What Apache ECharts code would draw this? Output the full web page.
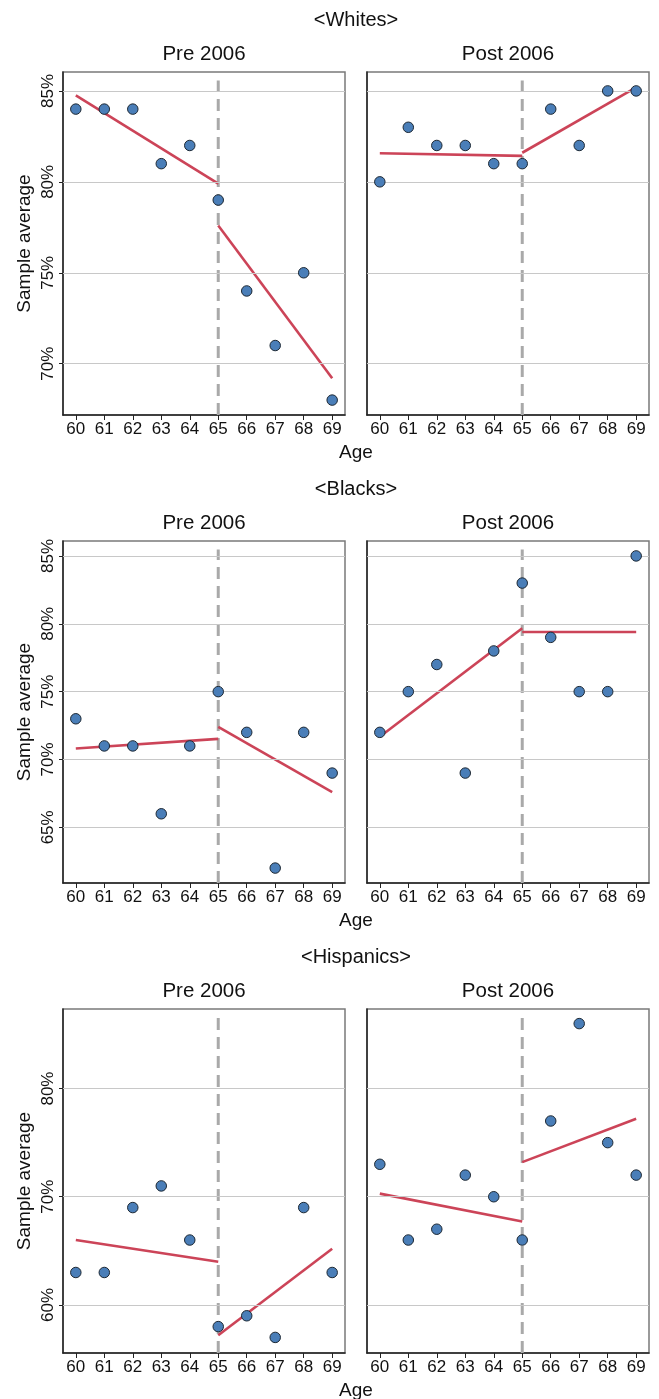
<!DOCTYPE html>
<html>
<head>
<meta charset="utf-8">
<script src="https://cdn.jsdelivr.net/npm/echarts@6/dist/echarts.min.js"></script>
<style>
html,body{margin:0;padding:0;background:#fff;}
#chart{width:659px;height:1399px;}
</style>
</head>
<body>
<div id="chart"></div>
<script>
// ---- data ----
const ages = [60, 61, 62, 63, 64, 65, 66, 67, 68, 69];
const CUTOFF = 65;
const groupNames = ['<Whites>', '<Blacks>', '<Hispanics>'];
const periodNames = ['Pre 2006', 'Post 2006'];

const whitesPre  = [84, 84, 84, 81, 82, 79, 74, 71, 75, 68];
const whitesPost = [80, 83, 82, 82, 81, 81, 84, 82, 85, 85];
const blacksPre  = [73, 71, 71, 66, 71, 75, 72, 62, 72, 69];
const blacksPost = [72, 75, 77, 69, 78, 83, 79, 75, 75, 85];
const hispPre    = [63, 63, 69, 71, 66, 58, 59, 57, 69, 63];
const hispPost   = [73, 66, 67, 72, 70, 66, 77, 86, 75, 72];

// fitted lines: [value at 60, value at 65] and [value at 65, value at 69]
const whitesPreFit  = [[84.76, 79.90], [77.6, 69.2]];
const whitesPostFit = [[81.57, 81.43], [81.6, 85.2]];
const blacksPreFit  = [[70.81, 71.52], [72.4, 67.6]];
const blacksPostFit = [[71.67, 79.67], [79.4, 79.4]];
const hispPreFit    = [[66.00, 64.00], [57.2, 65.2]];
const hispPostFit   = [[70.29, 67.71], [73.2, 77.2]];

const whitesTicks = [70, 75, 80, 85];
const blacksTicks = [65, 70, 75, 80, 85];
const hispTicks   = [60, 70, 80];

const whitesRange = [67.18, 86.04];
const blacksRange = [60.9, 86.1];
const hispRange   = [55.56, 87.35];

const xRange = [59.55, 69.45];

// ---- layout / style ----
const FONT = 'Liberation Sans, Arial, sans-serif';
const gridTops = [72, 541, 1009];
const gridHeights = [343, 342, 344];
const gridLefts = [63, 367];
const gridWidth = 282;
const PT_FILL = '#4a7eb8', PT_EDGE = '#1d2833', FIT = '#cc4458', DASH = '#a9a9a9', GRIDC = '#c8c8c8';

const groups = [
  {pre: whitesPre, post: whitesPost, preFit: whitesPreFit, postFit: whitesPostFit, ticks: whitesTicks, range: whitesRange},
  {pre: blacksPre, post: blacksPost, preFit: blacksPreFit, postFit: blacksPostFit, ticks: blacksTicks, range: blacksRange},
  {pre: hispPre, post: hispPost, preFit: hispPreFit, postFit: hispPostFit, ticks: hispTicks, range: hispRange}
];

const grid = [], xAxis = [], yAxis = [], series = [], graphic = [];

groups.forEach((g, gi) => {
  const top = gridTops[gi], h = gridHeights[gi];
  graphic.push({type: 'text', x: 356, y: top - 52,
    style: {text: groupNames[gi], x: 0, y: 0, align: 'center', verticalAlign: 'middle', textAlign: 'center', textVerticalAlign: 'middle', fontSize: 20, fontFamily: FONT, fill: '#111'}});
  graphic.push({type: 'text', x: 356, y: top + h + 37.5,
    style: {text: 'Age', x: 0, y: 0, align: 'center', verticalAlign: 'middle', textAlign: 'center', textVerticalAlign: 'middle', fontSize: 19, fontFamily: FONT, fill: '#111'}});
  graphic.push({type: 'text', x: 25, y: top + h / 2, rotation: Math.PI / 2,
    style: {text: 'Sample average', x: 0, y: 0, align: 'center', verticalAlign: 'middle', textAlign: 'center', textVerticalAlign: 'middle', fontSize: 19, fontFamily: FONT, fill: '#111'}});

  [0, 1].forEach(pi => {
    const idx = gi * 2 + pi;
    const vals = pi === 0 ? g.pre : g.post;
    const fit = pi === 0 ? g.preFit : g.postFit;
    const left = gridLefts[pi];
    graphic.push({type: 'text', x: left + gridWidth / 2, y: top - 18,
      style: {text: periodNames[pi], x: 0, y: 0, align: 'center', verticalAlign: 'middle', textAlign: 'center', textVerticalAlign: 'middle', fontSize: 20.5, fontFamily: FONT, fill: '#111'}});
    grid.push({left: left, top: top, width: gridWidth, height: h, show: true, borderColor: '#7a7a7a', borderWidth: 1.5, backgroundColor: 'transparent'});
    xAxis.push({
      type: 'value', gridIndex: idx, min: xRange[0], max: xRange[1],
      axisLine: {show: true, onZero: false, lineStyle: {color: '#222', width: 1.5}},
      axisTick: {show: true, length: 5, customValues: ages, lineStyle: {color: '#222', width: 1}},
      axisLabel: {show: true, customValues: ages, margin: 6, fontSize: 17, fontFamily: FONT, color: '#111'},
      splitLine: {show: false}
    });
    yAxis.push({
      type: 'value', gridIndex: idx, min: g.range[0], max: g.range[1],
      axisLine: {show: true, onZero: false, lineStyle: {color: '#222', width: 1.5}},
      axisTick: {show: pi === 0, length: 4, customValues: g.ticks, lineStyle: {color: '#222', width: 1}},
      axisLabel: {show: pi === 0, customValues: g.ticks, rotate: 90, margin: 6, fontSize: 17, fontFamily: FONT, color: '#111',
        formatter: v => v + '%'},
      splitLine: {show: false}
    });
    // horizontal grid lines
    series.push({type: 'line', xAxisIndex: idx, yAxisIndex: idx, data: [], silent: true, z: 1,
      markLine: {silent: true, symbol: ['none', 'none'], animation: false, label: {show: false},
        lineStyle: {color: GRIDC, width: 1.2, type: 'solid'},
        data: g.ticks.map(v => ({yAxis: v}))}});
    // cutoff dashed line
    const span = g.range[1] - g.range[0];
    series.push({type: 'line', xAxisIndex: idx, yAxisIndex: idx, silent: true, z: 2, symbol: 'none',
      lineStyle: {color: DASH, width: 3, type: [12, 7]},
      data: [[CUTOFF, g.range[0]], [CUTOFF, g.range[1] - 0.025 * span]]});
    // fit lines
    series.push({type: 'line', xAxisIndex: idx, yAxisIndex: idx, silent: true, z: 3, symbol: 'none',
      lineStyle: {color: FIT, width: 2.6},
      data: [[ages[0], fit[0][0]], [CUTOFF, fit[0][1]]]});
    series.push({type: 'line', xAxisIndex: idx, yAxisIndex: idx, silent: true, z: 3, symbol: 'none',
      lineStyle: {color: FIT, width: 2.6},
      data: [[CUTOFF, fit[1][0]], [ages[ages.length - 1], fit[1][1]]]});
    // points
    series.push({type: 'scatter', xAxisIndex: idx, yAxisIndex: idx, z: 5, symbol: 'circle', symbolSize: 10.5,
      itemStyle: {color: PT_FILL, borderColor: PT_EDGE, borderWidth: 1, opacity: 1},
      data: ages.map((a, i) => [a, vals[i]])});
  });
});

const chart = echarts.init(document.getElementById('chart'), null, {renderer: 'canvas'});
chart.setOption({
  animation: false,
  backgroundColor: '#fff',
  grid, xAxis, yAxis, series, graphic
});
</script>
</body>
</html>
